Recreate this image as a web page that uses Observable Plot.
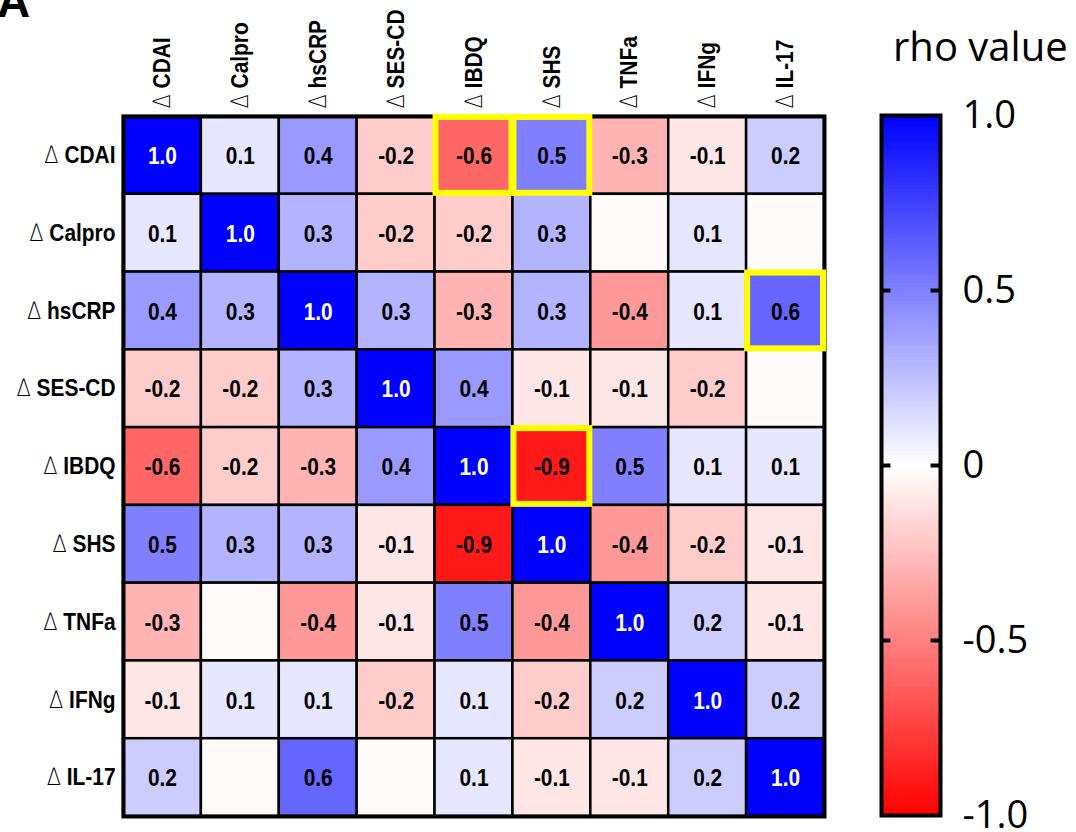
<!DOCTYPE html>
<html>
<head>
<meta charset="utf-8">
<script src="https://cdn.jsdelivr.net/npm/d3@7"></script>
<script src="https://cdn.jsdelivr.net/npm/@observablehq/plot@0.6"></script>
<style>
  html, body { margin: 0; padding: 0; background: #fff; }
  #wrap { position: relative; width: 1076px; height: 832px; overflow: hidden; background: #fff; }
  #wrap svg { position: absolute; top: 0; max-width: none; }
</style>
</head>
<body>
<div id="wrap"></div>
<script>
// Change-from-baseline variables, in matrix order
const variables = ["CDAI", "Calpro", "hsCRP", "SES-CD", "IBDQ", "SHS", "TNFa", "IFNg", "IL-17"];

// Spearman rho for each row variable against the columns (near-zero values are left unlabelled)
const rhoCDAI   = [ 1.0,  0.1,  0.4, -0.2, -0.6,  0.5, -0.3, -0.1,  0.2];
const rhoCalpro = [ 0.1,  1.0,  0.3, -0.2, -0.2,  0.3, -0.02, 0.1, -0.02];
const rhoHsCRP  = [ 0.4,  0.3,  1.0,  0.3, -0.3,  0.3, -0.4,  0.1,  0.6];
const rhoSESCD  = [-0.2, -0.2,  0.3,  1.0,  0.4, -0.1, -0.1, -0.2, -0.02];
const rhoIBDQ   = [-0.6, -0.2, -0.3,  0.4,  1.0, -0.9,  0.5,  0.1,  0.1];
const rhoSHS    = [ 0.5,  0.3,  0.3, -0.1, -0.9,  1.0, -0.4, -0.2, -0.1];
const rhoTNFa   = [-0.3, -0.02,-0.4, -0.1,  0.5, -0.4,  1.0,  0.2, -0.1];
const rhoIFNg   = [-0.1,  0.1,  0.1, -0.2,  0.1, -0.2,  0.2,  1.0,  0.2];
const rhoIL17   = [ 0.2, -0.02, 0.6, -0.02, 0.1, -0.1, -0.1,  0.2,  1.0];

// Highlighted pairs [row, column]
const highlighted = [["CDAI", "IBDQ"], ["CDAI", "SHS"], ["hsCRP", "IL-17"], ["IBDQ", "SHS"]];

// Colour-bar ticks
const legendTicks = [-1, -0.5, 0, 0.5, 1];
const legendTickLabels = ["-1.0", "-0.5", "0", "0.5", "1.0"];

const rhoRows = [rhoCDAI, rhoCalpro, rhoHsCRP, rhoSESCD, rhoIBDQ, rhoSHS, rhoTNFa, rhoIFNg, rhoIL17];
const cells = variables.flatMap((row, i) =>
  variables.map((col, j) => ({row, col, rho: rhoRows[i][j]}))
);

const colorScale = {
  type: "linear",
  domain: [-1, 0, 1],
  range: ["#ff0000", "#ffffff", "#0000ff"],
  interpolate: "rgb"
};

const sans = "'Liberation Sans', Arial, sans-serif";

const heatmap = Plot.plot({
  width: 860,
  height: 832,
  marginLeft: 123,
  marginRight: 36,
  marginTop: 116,
  marginBottom: 16,
  style: {fontFamily: sans, fontSize: "24px", fontWeight: "bold", color: "black", background: "transparent", overflow: "visible"},
  x: {domain: variables, padding: 0, round: false, axis: "top", tickSize: 0, tickPadding: 8, tickRotate: -90, label: null},
  y: {domain: variables, padding: 0, round: false, axis: "left", tickSize: 0, tickPadding: 8, label: null},
  color: colorScale,
  marks: [
    Plot.cell(cells, {x: "col", y: "row", fill: "rho", stroke: "black", strokeWidth: 2.5, inset: 0}),
    Plot.frame({stroke: "black", strokeWidth: 4}),
    Plot.text(cells.filter(d => Math.abs(d.rho) >= 0.05), {
      x: "col", y: "row",
      text: d => d.rho.toFixed(1),
      fill: d => d.rho > 0.95 ? "white" : "black",
      fontSize: 24, fontWeight: "bold", fontFamily: sans, dy: 1
    }),
    Plot.cell(highlighted, {x: d => d[1], y: d => d[0], fill: "none", stroke: "#ffff00", strokeWidth: 6, inset: 1})
  ]
});
heatmap.style.left = "0px";

// Axis labels: a light delta sign before each bold name
d3.select(heatmap).selectAll('[aria-label^="x-axis"] text, [aria-label^="y-axis"] text').each(function () {
  const name = this.textContent;
  const t = d3.select(this);
  t.text(null);
  t.append("tspan")
    .attr("font-weight", 200)
    .attr("font-family", "'DejaVu Sans', sans-serif")
    .attr("font-size", 24)
    .text("\u2206");
  t.append("tspan").text(" " + name);
});

// Colour bar
const bands = d3.range(-1, 1, 0.01);
const legend = Plot.plot({
  width: 216,
  height: 832,
  marginLeft: 21,
  marginRight: 136,
  marginTop: 115,
  marginBottom: 17,
  style: {fontFamily: "'Open Sans', sans-serif", fontSize: "38px", color: "black", background: "transparent", overflow: "visible"},
  x: {domain: [0, 1], axis: null},
  y: {
    domain: [-1, 1], axis: "right", ticks: legendTicks, tickSize: 0, tickPadding: 22, label: null,
    tickFormat: v => legendTickLabels[legendTicks.indexOf(v)]
  },
  color: colorScale,
  marks: [
    Plot.rect(bands, {x1: 0, x2: 1, y1: d => d, y2: d => d + 0.012, fill: d => d + 0.005, shapeRendering: "crispEdges"}),
    Plot.ruleY(legendTicks.slice(1, -1), {x1: 0, x2: 0.16, stroke: "black", strokeWidth: 4}),
    Plot.ruleY(legendTicks.slice(1, -1), {x1: 0.84, x2: 1, stroke: "black", strokeWidth: 4}),
    Plot.frame({stroke: "black", strokeWidth: 4})
  ]
});
legend.style.left = "860px";

d3.select(legend).append("text")
  .attr("x", 33).attr("y", 61)
  .attr("text-anchor", "start")
  .attr("font-family", "'Open Sans', sans-serif")
  .attr("font-size", 40)
  .attr("fill", "black")
  .text("rho value");

const wrap = document.getElementById("wrap");
wrap.appendChild(heatmap);
wrap.appendChild(legend);

// Condensed lettering for the matrix labels and values
d3.select(heatmap).selectAll("text").each(function () {
  const len = this.getComputedTextLength();
  if (len > 0) {
    this.setAttribute("textLength", (len * 0.87).toFixed(2));
    this.setAttribute("lengthAdjust", "spacingAndGlyphs");
  }
});

// Panel letter
d3.select(heatmap).append("text")
  .attr("x", -3).attr("y", 17)
  .attr("text-anchor", "start")
  .attr("font-family", sans)
  .attr("font-weight", "bold")
  .attr("font-size", 46)
  .attr("fill", "black")
  .text("A");
</script>
</body>
</html>
